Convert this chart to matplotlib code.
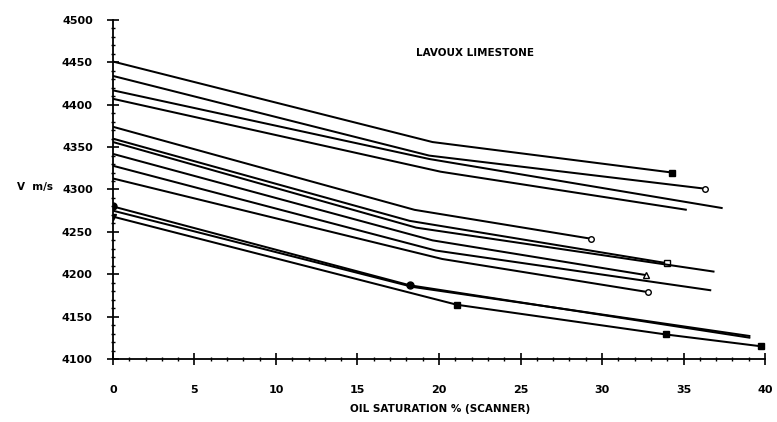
import numpy as np
import matplotlib
matplotlib.use("Agg")
import matplotlib.pyplot as plt
from matplotlib.ticker import MultipleLocator

# oil saturation (%) and velocity (m/s), one list per sample
sat_u1 = [0, 19.6, 34.3];        vel_u1 = [4451, 4356, 4320]
sat_u2 = [0, 19.4, 36.3];        vel_u2 = [4434, 4340, 4301]
sat_u3 = [0, 19.4, 37.4];        vel_u3 = [4417, 4336, 4278]
sat_u4 = [0, 20.1, 35.2];        vel_u4 = [4407, 4321, 4276]
sat_m1 = [0, 18.5, 29.3];        vel_m1 = [4374, 4276, 4242]
sat_m2 = [0, 18.2, 34.0];        vel_m2 = [4360, 4263, 4213]
sat_m3 = [0, 18.6, 36.9];        vel_m3 = [4356, 4255, 4203]
sat_m4 = [0, 19.6, 32.7];        vel_m4 = [4342, 4240, 4199]
sat_m5 = [0, 19.8, 36.7];        vel_m5 = [4328, 4228, 4181]
sat_m6 = [0, 20.2, 32.8];        vel_m6 = [4313, 4218, 4179]
sat_l1 = [0, 18.2, 39.1];        vel_l1 = [4280, 4187, 4125]
sat_l2 = [0, 18.4, 39.1];        vel_l2 = [4275, 4185, 4127]
sat_l3 = [0, 21.1, 33.9, 39.75]; vel_l3 = [4268, 4164, 4129, 4115]

series = [
    (sat_u1, vel_u1, 's', 'k'),
    (sat_u2, vel_u2, 'o', 'w'),
    (sat_u3, vel_u3, None, None),
    (sat_u4, vel_u4, None, None),
    (sat_m1, vel_m1, 'o', 'w'),
    (sat_m2, vel_m2, 's', 'w'),
    (sat_m3, vel_m3, None, None),
    (sat_m4, vel_m4, '^', 'w'),
    (sat_m5, vel_m5, None, None),
    (sat_m6, vel_m6, 'o', 'w'),
    (sat_l1, vel_l1, None, None),
    (sat_l2, vel_l2, None, None),
    (sat_l3, vel_l3, 's', 'k'),
]

plt.rcParams['font.family'] = 'DejaVu Sans'
fig = plt.figure(figsize=(7.77, 4.22), dpi=100)
ax = fig.add_axes([0.1454, 0.1493, 0.8392, 0.8033])

for s, v, m, fc in series:
    ax.plot(s, v, color='black', lw=1.45, solid_capstyle='butt')
    if m is not None:
        ax.plot(s[-1], v[-1], marker=m, ms=4, mfc=fc, mec='black', mew=1, ls='none')

# start / break markers
ax.plot(sat_l1[:2], vel_l1[:2], 'o', ms=5, color='black', ls='none')
ax.plot(sat_l3[1:3], vel_l3[1:3], marker='s', ms=4, color='black', ls='none')
ax.plot(sat_l3[0], vel_l3[0], marker='v', ms=5, color='black')

ax.set_xlim(0, 40)
ax.set_ylim(4100, 4500)
ax.xaxis.set_major_locator(MultipleLocator(5))
ax.xaxis.set_minor_locator(MultipleLocator(1))
ax.yaxis.set_major_locator(MultipleLocator(50))
ax.yaxis.set_minor_locator(MultipleLocator(10))
ax.tick_params(which='major', direction='inout', length=9, width=1.2, pad=8,
               labelsize=8)
ax.tick_params(which='minor', direction='inout', length=3.5, width=1)
for lab in ax.get_xticklabels() + ax.get_yticklabels():
    lab.set_fontweight('bold')
ax.tick_params(axis='x', pad=14)
ax.tick_params(axis='y', pad=10)

for sp in ['top', 'right']:
    ax.spines[sp].set_visible(False)
for sp in ['left', 'bottom']:
    ax.spines[sp].set_linewidth(1.3)

ax.text(22.2, 4461, 'LAVOUX LIMESTONE', ha='center', va='center',
        fontsize=7.5, fontweight='bold')
fig.text(0.045, 1 - 187 / 422, 'V  m/s', ha='center', va='center',
         fontsize=7.5, fontweight='bold')
fig.text(440 / 777, 1 - 409 / 422, 'OIL SATURATION % (SCANNER)', ha='center',
         va='center', fontsize=7.5, fontweight='bold')

fig.savefig('out.png', dpi=100)
